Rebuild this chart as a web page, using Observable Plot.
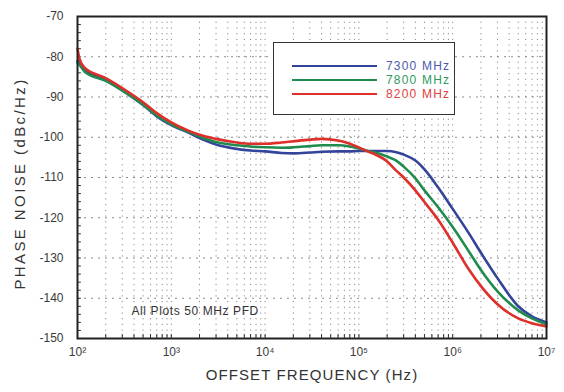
<!DOCTYPE html>
<html><head><meta charset="utf-8">
<script src="https://cdn.jsdelivr.net/npm/d3@7"></script>
<script src="https://cdn.jsdelivr.net/npm/@observablehq/plot@0.6"></script>
<style>
body{margin:0;background:#fff;font-family:"Liberation Sans",Arial,sans-serif;}
#wrap{position:relative;width:564px;height:392px;overflow:hidden;}
#legend{position:absolute;left:273px;top:42px;width:182px;height:73px;border:1px solid #333;background:#fff;box-sizing:border-box;}
.row{position:absolute;left:18px;height:14px;display:flex;align-items:center;}
.sw{width:85px;height:0;border-top:2.5px solid;margin-right:9px;}
.lt{font-size:12px;letter-spacing:1.2px;white-space:nowrap;}
</style></head><body><div id="wrap"></div>
<script>
const freqHz = [100,105,120,200,320,500,700,1000,1500,2000,3000,5000,7000,10000,15000,20000,30000,40000,60000,80000,100000,120000,150000,200000,250000,300000,400000,500000,700000,1000000,1500000,2000000,3000000,5000000,7000000,10000000];
const noise7300 = [-81,-81.5,-83.3,-85.8,-88.8,-92,-94.8,-97,-98.8,-100.2,-101.8,-102.9,-103.3,-103.5,-103.9,-104.0,-103.8,-103.6,-103.5,-103.5,-103.4,-103.4,-103.4,-103.4,-103.7,-104.3,-105.8,-108,-112.5,-117.8,-124,-128.7,-135,-142,-144.5,-146];
const noise7800 = [-81.5,-82,-83.8,-86,-88.8,-91.9,-94.6,-96.8,-98.6,-99.8,-101.2,-102,-102.3,-102.5,-102.6,-102.5,-102.2,-102.0,-102.0,-102.3,-102.8,-103.3,-103.8,-104.8,-105.8,-107.3,-110.2,-113.2,-117.4,-122.3,-128.5,-133,-138.3,-143,-145,-146.5];
const noise8200 = [-78,-80.5,-82.8,-85.3,-88.2,-91.3,-94,-96.3,-98.3,-99.4,-100.4,-101.3,-101.6,-101.6,-101.3,-101.0,-100.6,-100.4,-100.8,-101.6,-102.5,-103.4,-104.3,-106,-108.3,-110,-113.2,-116.1,-120.5,-126.2,-133,-137,-141.5,-145,-146.2,-147];
const seriesNames = ["7300 MHz","7800 MHz","8200 MHz"];
const seriesColors = ["#34449a","#1f8c4e","#de2f2b"];
const legendTextColors = ["#4a5aae","#2f9a5e","#e2413d"];
const xTicks = [1e2,1e3,1e4,1e5,1e6,1e7];
const yTicks = [-70,-80,-90,-100,-110,-120,-130,-140,-150];
const xTitle = "OFFSET FREQUENCY (Hz)";
const yTitle = "PHASE NOISE (dBc/Hz)";
const note = "All Plots 50 MHz PFD";

const seriesValues = [noise7300, noise7800, noise8200];
const rows = [];
seriesNames.forEach((s, i) => freqHz.forEach((f, j) => rows.push({f, v: seriesValues[i][j], s})));

const gridX = xTicks.slice(0, -1).flatMap(d => [1,2,3,4,5,6,7,8,9].map(m => m * d)).concat([1e7]);
const yMinor = d3.range(-150, -69, 2);
const supMap = {"0":"⁰","1":"¹","2":"²","3":"³","4":"⁴","5":"⁵","6":"⁶","7":"⁷","8":"⁸","9":"⁹"};
const fmtPow = d => "10" + String(Math.round(Math.log10(d))).split("").map(c => supMap[c]).join("");

const plot = Plot.plot({
  width: 564, height: 392,
  marginLeft: 77, marginRight: 18, marginTop: 16, marginBottom: 54,
  style: {fontFamily: "'Liberation Sans', Arial, sans-serif", background: "#fff", color: "#3a3a3a"},
  x: {type: "log", domain: [1e2, 1e7]},
  y: {domain: [-150, -70]},
  color: {domain: seriesNames, range: seriesColors},
  marks: [
    Plot.ruleX(gridX, {stroke: "#8a8a8a", strokeDasharray: "1.2,4.5", strokeWidth: 1}),
    Plot.ruleY(yTicks, {stroke: "#8a8a8a", strokeDasharray: "2,5", strokeWidth: 1}),
    Plot.ruleY(yMinor, {x1: 100, x2: 110, stroke: "#333", strokeWidth: 1}),
    Plot.ruleX(gridX, {y1: -150, y2: -149, stroke: "#333", strokeWidth: 1}),
    Plot.line(rows, {x: "f", y: "v", z: "s", stroke: "s", strokeWidth: 2.6, curve: "monotone-x"}),
    Plot.frame({stroke: "#222", strokeWidth: 2}),
    Plot.axisX({ticks: xTicks, tickFormat: fmtPow, tickSize: 0, tickPadding: 9, fontSize: 12, label: null}),
    Plot.axisY({ticks: yTicks, tickFormat: d => String(d), tickSize: 0, tickPadding: 14, fontSize: 12, label: null}),
    Plot.text([xTitle], {text: d => d, frameAnchor: "bottom", dy: 41, textAnchor: "middle", fontSize: 15, fill: "#333"}),
    Plot.text([yTitle], {text: d => d, frameAnchor: "left", dx: -57, dy: 6, rotate: -90, textAnchor: "middle", lineAnchor: "middle", fontSize: 15, fill: "#333"}),
    Plot.text([note], {text: d => d, frameAnchor: "bottom-left", dx: 54, dy: -24, textAnchor: "start", fontSize: 12, fill: "#333"})
  ]
});
const wrap = document.getElementById("wrap");
wrap.appendChild(plot);
d3.select(plot).selectAll("text").filter(function(){ return this.textContent === xTitle; }).attr("letter-spacing", "1.1px");
d3.select(plot).selectAll("text").filter(function(){ return this.textContent === yTitle; }).attr("letter-spacing", "2.4px");
d3.select(plot).selectAll("text").filter(function(){ return this.textContent === note; }).attr("letter-spacing", "0.6px");

const legend = document.createElement("div");
legend.id = "legend";
const rowTops = [16, 30, 44];
seriesNames.forEach((s, i) => {
  const r = document.createElement("div");
  r.className = "row";
  r.style.top = rowTops[i] + "px";
  r.innerHTML = `<div class="sw" style="border-color:${seriesColors[i]}"></div><span class="lt" style="color:${legendTextColors[i]}">${s}</span>`;
  legend.appendChild(r);
});
wrap.appendChild(legend);
</script></body></html>
